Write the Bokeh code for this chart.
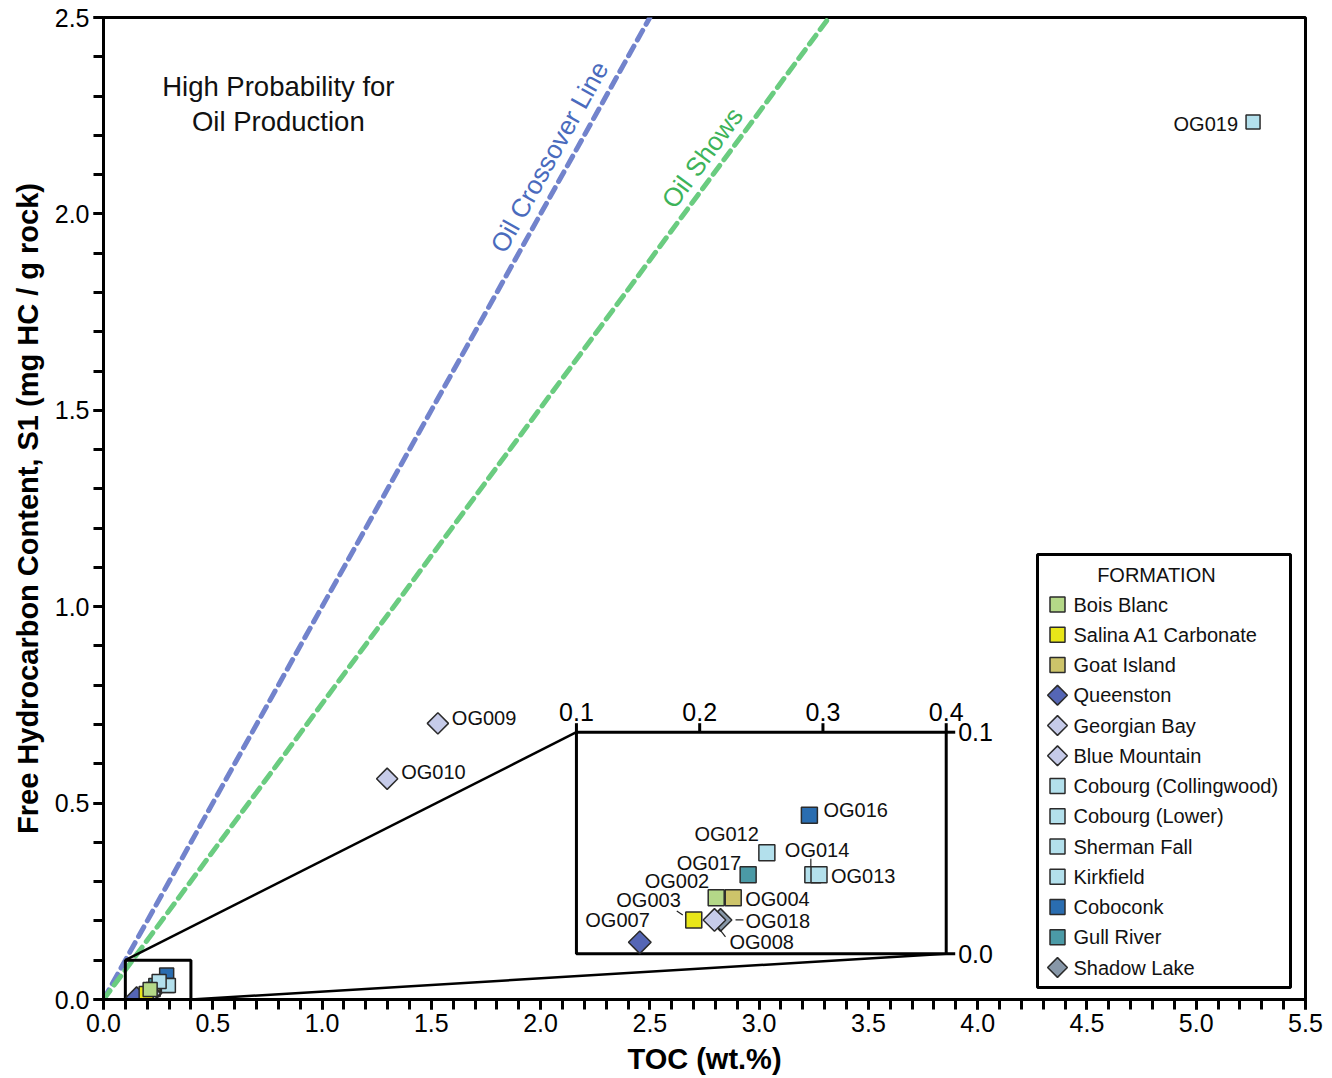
import math

from bokeh.core.properties import value
from bokeh.embed import file_html
from bokeh.models import (ColumnDataSource, PrintfTickFormatter, Range1d,
                          SingleIntervalTicker)
from bokeh.plotting import figure
from bokeh.resources import INLINE

FONT = "Liberation Sans"

# ---- Rock-Eval pyrolysis results -------------------------------------------
samples = ["OG002", "OG003", "OG004", "OG007", "OG008", "OG009", "OG010",
           "OG012", "OG013", "OG014", "OG016", "OG017", "OG018", "OG019"]
toc = [0.2134, 0.1952, 0.2272, 0.1514, 0.2120, 1.530, 1.298,
       0.2545, 0.2968, 0.2918, 0.2890, 0.2393, 0.2169, 5.26]
s1 = [0.0253, 0.0153, 0.0253, 0.0052, 0.0153, 0.703, 0.562,
      0.0456, 0.0357, 0.0357, 0.0625, 0.0357, 0.0153, 2.234]
sample_formation = ["Bois Blanc", "Salina A1 Carbonate", "Goat Island", "Queenston",
                    "Blue Mountain", "Georgian Bay", "Georgian Bay",
                    "Cobourg (Lower)", "Sherman Fall", "Kirkfield", "Coboconk",
                    "Gull River", "Shadow Lake", "Cobourg (Collingwood)"]

formations = ["Bois Blanc", "Salina A1 Carbonate", "Goat Island", "Queenston",
              "Georgian Bay", "Blue Mountain", "Cobourg (Collingwood)",
              "Cobourg (Lower)", "Sherman Fall", "Kirkfield", "Coboconk",
              "Gull River", "Shadow Lake"]
formation_colors = ["#b4d888", "#e8e619", "#cdc46a", "#5566b5", "#c6cbe9", "#c6cbe9",
                    "#b3e0ec", "#b3e0ec", "#b3e0ec", "#b3e0ec", "#2a6db0", "#4b9aa6",
                    "#8797a8"]
formation_diamond = [False, False, False, True, True, True, False, False, False,
                     False, False, False, True]

# Reference lines (S1 vs TOC)
crossover_toc = [0.0, 2.5]
crossover_s1 = [0.0, 2.5]
shows_toc = [0.0, 3.32]
shows_s1 = [0.0, 2.5]

# Zoomed window
zoom_toc = [0.1, 0.4]
zoom_s1 = [0.0, 0.1]
zoom_x_ticks = [0.1, 0.2, 0.3, 0.4]
zoom_x_labels = ["0.1", "0.2", "0.3", "0.4"]
zoom_y_ticks = [0.0, 0.1]
zoom_y_labels = ["0.0", "0.1"]

# ---- layout ----------------------------------------------------------------
FW, FH = 1202, 982
X_RANGE = (0.0, 5.5)
Y_RANGE = (0.0, 2.5)
INSET_X = (2.164, 3.856)      # where the zoomed window sits, in main-axis units
INSET_Y = (0.1163, 0.6805)

px_x = FW / (X_RANGE[1] - X_RANGE[0])
px_y = FH / (Y_RANGE[1] - Y_RANGE[0])
in_px_x = (INSET_X[1] - INSET_X[0]) * px_x / (zoom_toc[1] - zoom_toc[0])
in_px_y = (INSET_Y[1] - INSET_Y[0]) * px_y / (zoom_s1[1] - zoom_s1[0])

p = figure(frame_width=FW, frame_height=FH,
           x_range=Range1d(*X_RANGE), y_range=Range1d(*Y_RANGE),
           output_backend="svg", toolbar_location=None,
           min_border_left=103, min_border_right=27, min_border_top=17,
           min_border_bottom=79, background_fill_color="white")
p.grid.visible = False
p.outline_line_color = "black"
p.outline_line_width = 3

for ax, lab in ((p.xaxis, "TOC (wt.%)"),
                (p.yaxis, "Free Hydrocarbon Content, S1 (mg HC / g rock)")):
    ax.axis_label = lab
    ax.ticker = SingleIntervalTicker(interval=0.5, num_minor_ticks=5)
    ax.formatter = PrintfTickFormatter(format="%.1f")
    ax.axis_line_width = 3
    ax.major_tick_line_width = 3
    ax.minor_tick_line_width = 3
    ax.major_tick_in = 0
    ax.major_tick_out = 10
    ax.minor_tick_in = 0
    ax.minor_tick_out = 10
    ax.major_label_text_font = FONT
    ax.major_label_text_font_size = "25px"
    ax.major_label_text_color = "black"
    ax.major_label_standoff = 4
    ax.axis_label_text_font = FONT
    ax.axis_label_text_font_size = "29px"
    ax.axis_label_text_font_style = "bold"
    ax.axis_label_text_color = "black"
    ax.axis_label_standoff = 8

# reference lines
p.line(crossover_toc, crossover_s1, line_color="#7283cc", line_width=5,
       line_dash="11 7", line_cap="round")
p.line(shows_toc, shows_s1, line_color="#6acc80", line_width=5,
       line_dash="11 7", line_cap="round")

ang_cross = math.atan2((crossover_s1[1] - crossover_s1[0]) * px_y,
                       (crossover_toc[1] - crossover_toc[0]) * px_x)
ang_shows = math.atan2((shows_s1[1] - shows_s1[0]) * px_y,
                       (shows_toc[1] - shows_toc[0]) * px_x)
p.text(x=[2.04], y=[2.145], text=["Oil Crossover Line"], angle=ang_cross,
       text_font=value(FONT), text_font_size="26px", text_color="#4a6bbd",
       text_align="center", text_baseline="middle")
p.text(x=[2.74], y=[2.143], text=["Oil Shows"], angle=ang_shows,
       text_font=value(FONT), text_font_size="26px", text_color="#3db35a",
       text_align="center", text_baseline="middle")
p.text(x=[0.80], y=[2.28], text=["High Probability for\nOil Production"],
       text_font=value(FONT), text_font_size="27.5px", text_color="#111111",
       text_align="center", text_baseline="middle", text_line_height=1.12)

# zoom box and connectors
p.quad(left=[zoom_toc[0]], right=[zoom_toc[1]], bottom=[zoom_s1[0]], top=[zoom_s1[1]],
       fill_color=None, line_color="black", line_width=3)
p.segment(x0=[zoom_toc[0], zoom_toc[1]], y0=[zoom_s1[1], zoom_s1[0]],
          x1=[INSET_X[0], INSET_X[1]], y1=[INSET_Y[1], INSET_Y[0]],
          line_color="black", line_width=2.5)

inset = p.subplot(x_source=Range1d(*zoom_toc), y_source=Range1d(*zoom_s1),
                  x_target=Range1d(*INSET_X), y_target=Range1d(*INSET_Y))
inset.quad(left=[zoom_toc[0]], right=[zoom_toc[1]], bottom=[zoom_s1[0]], top=[zoom_s1[1]],
           fill_color="white", line_color="black", line_width=3)

# inset ticks and labels
tick_len = 9
inset.segment(x0=zoom_x_ticks, y0=[zoom_s1[1]] * 4, x1=zoom_x_ticks,
              y1=[zoom_s1[1] + tick_len / in_px_y] * 4, line_color="black", line_width=3)
inset.segment(x0=[zoom_toc[1]] * 2, y0=zoom_y_ticks, x1=[zoom_toc[1] + tick_len / in_px_x] * 2,
              y1=zoom_y_ticks, line_color="black", line_width=3)
inset.text(x=zoom_x_ticks, y=[zoom_s1[1]] * 4, text=zoom_x_labels, y_offset=-11,
           text_font=value(FONT), text_font_size="25px", text_color="black",
           text_align="center", text_baseline="bottom")
inset.text(x=[zoom_toc[1]] * 2, y=zoom_y_ticks, text=zoom_y_labels, x_offset=12,
           text_font=value(FONT), text_font_size="25px", text_color="black",
           text_align="left", text_baseline="middle")


def formation_source(f):
    idx = [i for i, ff in enumerate(sample_formation) if ff == f]
    return ColumnDataSource(dict(x=[toc[i] for i in idx], y=[s1[i] for i in idx]))


# markers: full-scale panel (stacking order matters where they pile up near the origin)
main_order = ["Coboconk", "Gull River", "Goat Island", "Kirkfield", "Sherman Fall",
              "Cobourg (Lower)", "Cobourg (Collingwood)", "Shadow Lake", "Blue Mountain",
              "Georgian Bay", "Queenston", "Salina A1 Carbonate", "Bois Blanc"]
for f in main_order:
    k = formations.index(f)
    diamond = formation_diamond[k]
    p.scatter("x", "y", source=formation_source(f), marker="square",
              angle=math.pi / 4 if diamond else 0.0,
              size=15 if diamond else 14, fill_color=formation_colors[k],
              line_color="#2b2b2b", line_width=1.5)

# markers: zoomed panel
inset_order = ["Bois Blanc", "Salina A1 Carbonate", "Goat Island", "Queenston",
               "Shadow Lake", "Georgian Bay", "Blue Mountain", "Cobourg (Collingwood)",
               "Cobourg (Lower)", "Kirkfield", "Sherman Fall", "Coboconk", "Gull River"]
for f in inset_order:
    k = formations.index(f)
    diamond = formation_diamond[k]
    inset.scatter("x", "y", source=formation_source(f), marker="square",
                  angle=math.pi / 4 if diamond else 0.0,
                  size=16, fill_color=formation_colors[k],
                  line_color="#2b2b2b", line_width=1.5)

# sample labels: (sample, align, dx, dy) in screen pixels
main_labels = [("OG009", "left", 14, -5), ("OG010", "left", 14, -7),
               ("OG019", "right", -15, 2)]
inset_labels = [("OG016", "left", 14, -5), ("OG012", "right", -8, -19),
                ("OG014", "left", -28, -25), ("OG013", "left", 12, 1),
                ("OG017", "right", -7, -12), ("OG002", "right", -7, -17),
                ("OG004", "left", 12, 1), ("OG003", "right", -13, -20),
                ("OG018", "left", 25, 1), ("OG008", "left", 15, 22),
                ("OG007", "right", 10, -22)]


def label_source(entries, align):
    rows = [e for e in entries if e[1] == align]
    return ColumnDataSource(dict(
        x=[toc[samples.index(e[0])] for e in rows],
        y=[s1[samples.index(e[0])] for e in rows],
        t=[e[0] for e in rows],
        dx=[e[2] for e in rows],
        dy=[e[3] for e in rows]))


for api, entries in ((p, main_labels), (inset, inset_labels)):
    for align in ("left", "right"):
        api.text("x", "y", text="t", source=label_source(entries, align),
                 x_offset="dx", y_offset="dy", text_font=value(FONT),
                 text_font_size="20px", text_color="#111111",
                 text_align=align, text_baseline="middle")

# leader lines for crowded inset labels: (sample, dx0, dy0, dx1, dy1) pixels
leaders = [("OG003", -17, -9, -11, -5), ("OG008", 4, 8, 11, 17),
           ("OG018", 15, 0, 23, 0), ("OG014", -2, -16, -2, -8)]
lx0, ly0, lx1, ly1 = [], [], [], []
for s, a, b, c, d in leaders:
    i = samples.index(s)
    lx0.append(toc[i] + a / in_px_x)
    ly0.append(s1[i] - b / in_px_y)
    lx1.append(toc[i] + c / in_px_x)
    ly1.append(s1[i] - d / in_px_y)
inset.segment(x0=lx0, y0=ly0, x1=lx1, y1=ly1, line_color="#222222", line_width=1.2)

# ---- formation key (drawn in its own pixel-like coordinate box) -------------
KEY_W, KEY_H = 253, 433
KEY_X = (934 / px_x, (934 + KEY_W) / px_x)
KEY_Y = (12 / px_y, (12 + KEY_H) / px_y)
key = p.subplot(x_source=Range1d(0, KEY_W), y_source=Range1d(0, KEY_H),
                x_target=Range1d(*KEY_X), y_target=Range1d(*KEY_Y))
key.quad(left=[0], right=[KEY_W], bottom=[0], top=[KEY_H],
         fill_color="white", line_color="black", line_width=3)
key.text(x=[KEY_W * 0.47], y=[KEY_H - 20], text=["FORMATION"], text_font=value(FONT),
         text_font_size="20px", text_color="#111111", text_align="center",
         text_baseline="middle")
row_y = [KEY_H - 50 - 30.25 * k for k in range(len(formations))]
for shape_is_diamond in (False, True):
    rows = [k for k in range(len(formations)) if formation_diamond[k] == shape_is_diamond]
    key.scatter(x=[20] * len(rows), y=[row_y[k] for k in rows], marker="square",
                angle=math.pi / 4 if shape_is_diamond else 0.0,
                size=14 if shape_is_diamond else 15,
                fill_color=[formation_colors[k] for k in rows],
                line_color="#2b2b2b", line_width=1.5)
key.text(x=[36] * len(formations), y=row_y, text=formations, text_font=value(FONT),
         text_font_size="20px", text_color="#111111", text_align="left",
         text_baseline="middle")

open("out.html", "w").write(file_html(p, INLINE))
